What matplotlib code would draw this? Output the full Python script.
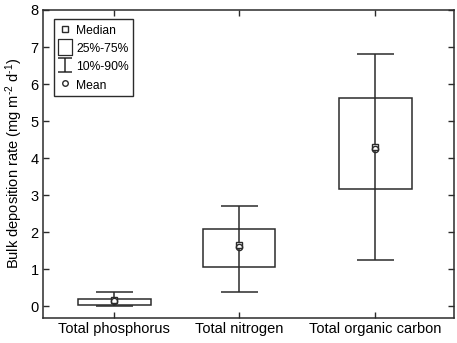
import matplotlib
matplotlib.use("Agg")
import matplotlib.pyplot as plt
from matplotlib.lines import Line2D
from matplotlib.path import Path

plt.rcParams["font.family"] = ["Liberation Sans", "DejaVu Sans"]
plt.rcParams["mathtext.fontset"] = "custom"
plt.rcParams["mathtext.rm"] = "Liberation Sans"
plt.rcParams["mathtext.it"] = "Liberation Sans:italic"
plt.rcParams["mathtext.bf"] = "Liberation Sans:bold"

categories = ["Total phosphorus", "Total nitrogen", "Total organic carbon"]
positions = [1, 2, 3.09]
p10 = [0.01, 0.40, 1.25]
p25 = [0.05, 1.06, 3.16]
median = [0.17, 1.65, 4.30]
p75 = [0.21, 2.08, 5.63]
p90 = [0.40, 2.71, 6.81]
mean = [0.15, 1.60, 4.26]

color = "#2b2b2b"
lw = 1.1
fontsize = 10.5

fig = plt.figure(figsize=(4.57, 3.43), dpi=100)
ax = fig.add_axes([0.095, 0.074, 0.898, 0.897])

# bigotes y topes
ax.vlines(positions, p10, p90, color=color, lw=lw, zorder=2)
ax.hlines(p10, [p - 0.15 for p in positions], [p + 0.15 for p in positions],
          color=color, lw=lw, zorder=2)
ax.hlines(p90, [p - 0.15 for p in positions], [p + 0.15 for p in positions],
          color=color, lw=lw, zorder=2)
# cajas 25-75
ax.bar(positions, [b - a for a, b in zip(p25, p75)], bottom=p25, width=0.58,
       fill=False, edgecolor=color, lw=lw, zorder=3)
# mediana y media
ax.plot(positions, median, ls="none", marker="s", ms=5, mfc="white",
        mec=color, mew=1.0, zorder=4)
ax.plot(positions, mean, ls="none", marker="o", ms=4.5, mfc="none",
        mec=color, mew=1.0, zorder=5)

ax.set_xlim(0.432, 3.718)
ax.set_ylim(-0.3, 8)
ax.set_xticks(positions)
ax.set_xticklabels(categories, fontsize=fontsize)
ax.set_yticks(range(0, 9))
ax.tick_params(axis="y", labelsize=fontsize)
ax.tick_params(direction="in", top=True, right=True, length=4,
               width=1.0, color=color)
for spine in ax.spines.values():
    spine.set_linewidth(1.1)
    spine.set_color(color)
ax.set_ylabel(r"Bulk deposition rate (mg m$^{\text{-}2}$ d$^{\text{-}1}$)",
              fontsize=fontsize, labelpad=4)

# leyenda con marcadores propios
ibar = Path([(-0.9, -1), (0.9, -1), (0, -1), (0, 1), (-0.9, 1), (0.9, 1)],
            [Path.MOVETO, Path.LINETO, Path.MOVETO, Path.LINETO,
             Path.MOVETO, Path.LINETO])
rect = Path([(-0.43, -0.5), (0.43, -0.5), (0.43, 0.5), (-0.43, 0.5),
             (-0.43, -0.5)],
            [Path.MOVETO, Path.LINETO, Path.LINETO, Path.LINETO,
             Path.CLOSEPOLY])
handles = [
    Line2D([], [], ls="none", marker="s", ms=4, mfc="white", mec=color, mew=1.0),
    Line2D([], [], ls="none", marker=rect, ms=11, mfc="none", mec=color, mew=0.9),
    Line2D([], [], ls="none", marker=ibar, ms=10.5, mfc="none", mec=color, mew=1.1),
    Line2D([], [], ls="none", marker="o", ms=4, mfc="none", mec=color, mew=1.0),
]
labels = ["Median", "25%-75%", "10%-90%", "Mean"]
leg = ax.legend(handles, labels, loc="upper left", fontsize=8.7,
                bbox_to_anchor=(0.025, 0.97), fancybox=False,
                edgecolor=color, framealpha=1, handlelength=1.1,
                handleheight=1.2, handletextpad=0.35, labelspacing=0.4,
                borderpad=0.4, borderaxespad=0)
leg.get_frame().set_linewidth(1.0)

fig.savefig("out.png", dpi=100)
